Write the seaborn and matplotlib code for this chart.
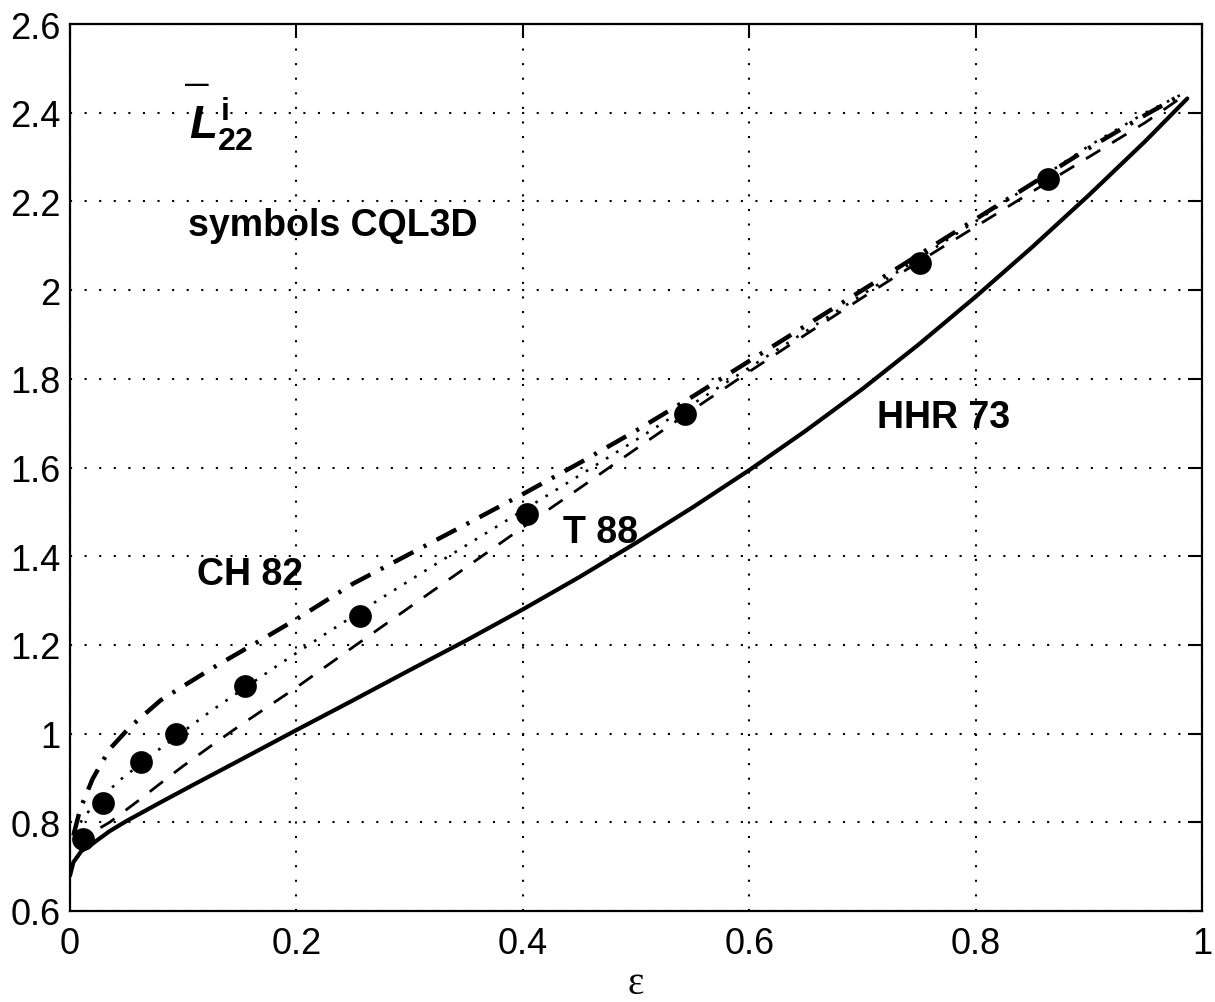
import numpy as np
import pandas as pd
import matplotlib
matplotlib.use('Agg')
import matplotlib.pyplot as plt
import seaborn as sns

# curves (epsilon, L22)
hhr_eps = [0.0, 0.003, 0.01, 0.02, 0.035, 0.05, 0.08, 0.11, 0.15, 0.2, 0.25, 0.3, 0.35, 0.4, 0.45, 0.5,
           0.55, 0.6, 0.65, 0.7, 0.75, 0.8, 0.85, 0.9, 0.95, 0.987]
hhr_val = [0.68, 0.71, 0.735, 0.752, 0.78, 0.803, 0.845, 0.886, 0.94, 1.008, 1.075, 1.143, 1.21, 1.28, 1.353, 1.43,
           1.51, 1.594, 1.683, 1.777, 1.878, 1.985, 2.097, 2.214, 2.336, 2.432]

t88_eps = [0.003, 0.015, 0.035, 0.06, 0.08, 0.1, 0.126, 0.15, 0.2, 0.25, 0.3, 0.35, 0.4, 0.45, 0.5,
           0.55, 0.6, 0.65, 0.7, 0.75, 0.8, 0.85, 0.9, 0.95, 0.985]
t88_val = [0.756, 0.77, 0.80, 0.848, 0.888, 0.927, 0.975, 1.018, 1.104, 1.195, 1.285, 1.375, 1.465, 1.553, 1.642,
           1.73, 1.816, 1.90, 1.983, 2.064, 2.143, 2.222, 2.30, 2.378, 2.44]

ch82_eps = [0.003, 0.009, 0.02, 0.035, 0.053, 0.08, 0.1, 0.126, 0.168, 0.2, 0.25, 0.3, 0.35, 0.4, 0.45, 0.5,
            0.55, 0.6, 0.65, 0.7, 0.75, 0.8, 0.85, 0.9, 0.95, 0.985]
ch82_val = [0.77, 0.83, 0.898, 0.965, 1.015, 1.075, 1.107, 1.148, 1.21, 1.258, 1.338, 1.405, 1.472, 1.54, 1.61, 1.683,
            1.76, 1.84, 1.92, 2.0, 2.08, 2.16, 2.24, 2.32, 2.395, 2.445]

dot_eps = [0.003, 0.02, 0.044, 0.079, 0.124, 0.183, 0.227, 0.276, 0.33, 0.4, 0.45, 0.5, 0.55, 0.6,
           0.65, 0.7, 0.75, 0.8, 0.85, 0.9, 0.95, 0.985]
dot_val = [0.778, 0.837, 0.895, 0.965, 1.05, 1.153, 1.227, 1.307, 1.393, 1.503, 1.582, 1.662, 1.743, 1.825,
           1.907, 1.99, 2.072, 2.155, 2.24, 2.325, 2.40, 2.445]

# CQL3D symbols
cql_eps = [0.0115, 0.029, 0.063, 0.094, 0.155, 0.256, 0.404, 0.543, 0.751, 0.864]
cql_val = [0.762, 0.844, 0.936, 1.00, 1.108, 1.266, 1.496, 1.721, 2.06, 2.251]

xticks = [0, 0.2, 0.4, 0.6, 0.8, 1]
xticklabels = ['0', '0.2', '0.4', '0.6', '0.8', '1']
yticks = [0.6, 0.8, 1.0, 1.2, 1.4, 1.6, 1.8, 2.0, 2.2, 2.4, 2.6]
yticklabels = ['0.6', '0.8', '1', '1.2', '1.4', '1.6', '1.8', '2', '2.2', '2.4', '2.6']

sns.set_style('white')
plt.rcParams['font.family'] = ['Liberation Sans', 'DejaVu Sans']
plt.rcParams['mathtext.fontset'] = 'custom'
plt.rcParams['mathtext.rm'] = 'Liberation Sans:bold'
plt.rcParams['mathtext.it'] = 'Liberation Sans:bold:italic'
plt.rcParams['mathtext.bf'] = 'Liberation Sans:bold'
for k in ['text.color', 'axes.labelcolor', 'xtick.color', 'ytick.color']:
    plt.rcParams[k] = 'black'

fig = plt.figure(figsize=(12.15, 10.03), dpi=100)
ax = fig.add_axes([70/1215, 91/1003, 1132/1215, 887/1003])

sns.lineplot(x=hhr_eps, y=hhr_val, ax=ax, color='black', lw=3, sort=False, estimator=None)
sns.lineplot(x=t88_eps, y=t88_val, ax=ax, color='black', lw=2, sort=False, estimator=None,
             linestyle=(0, (6, 5)))
sns.lineplot(x=ch82_eps, y=ch82_val, ax=ax, color='black', lw=3.2, sort=False, estimator=None,
             linestyle=(0, (5, 2.6, 0.7, 2.6)))
sns.lineplot(x=dot_eps, y=dot_val, ax=ax, color='black', lw=1.9, sort=False, estimator=None,
             linestyle=(0, (1, 3.5)))
sns.scatterplot(x=cql_eps, y=cql_val, ax=ax, color='black', s=230, edgecolor='black', zorder=5)

ax.set_xlim(0, 1)
ax.set_ylim(0.6, 2.6)
ax.set_xticks(xticks)
ax.set_xticklabels(xticklabels)
ax.set_yticks(yticks)
ax.set_yticklabels(yticklabels)
ax.tick_params(direction='in', length=10, width=1.5, labelsize=26, top=True, right=True)
ax.tick_params(axis='x', pad=11)
ax.tick_params(axis='y', pad=7)
ax.grid(True, color='black', linestyle=(0, (1, 6)), linewidth=1.5)
for sp in ax.spines.values():
    sp.set_linewidth(1.6)
    sp.set_color('black')

ax.set_xlabel('ε', fontsize=28, family=['Liberation Serif', 'DejaVu Serif'])
ax.xaxis.set_label_coords(0.5, -0.092)
ax.xaxis.label.set_verticalalignment('baseline')

# L22 label: bold italic L with a bar on top
ax.text(0.105, 2.345, r'$L^{\mathrm{i}}_{\mathrm{22}}$', fontsize=33)
ax.text(0.102, 2.466, '—', fontsize=17, fontweight='bold', va='center')
ax.text(0.104, 2.124, 'symbols CQL3D', fontsize=27, fontweight='bold')
ax.text(0.112, 1.338, 'CH 82', fontsize=27, fontweight='bold')
ax.text(0.4355, 1.432, 'T 88', fontsize=27, fontweight='bold')
ax.text(0.713, 1.692, 'HHR 73', fontsize=27, fontweight='bold')

fig.savefig('out.png', dpi=100)
